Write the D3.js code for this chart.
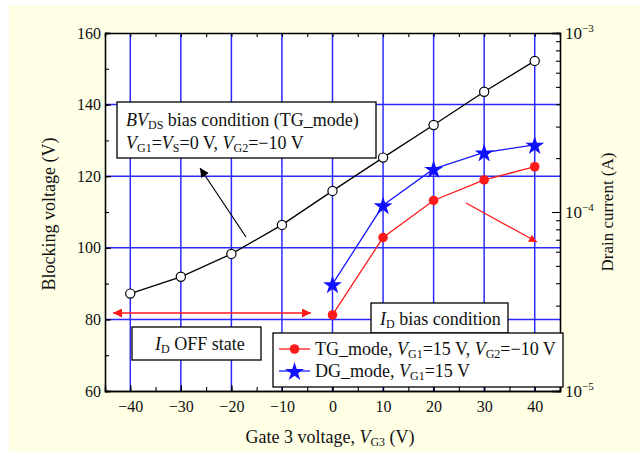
<!DOCTYPE html>
<html><head><meta charset="utf-8">
<script src="https://cdn.jsdelivr.net/npm/d3@7"></script>
<style>body{margin:0;background:#fff}svg{display:block}text{font-family:"Liberation Serif","Times New Roman",serif;fill:#111}</style>
</head><body><svg id="c" width="640" height="452"></svg>
<script>
const gateV = [-40,-30,-20,-10,0,10,20,30,40];
const bvBlocking = [87.2,91.9,98.3,106.4,115.9,125.2,134.3,143.6,152.2];
const tgV = [0,10,20,30,40];
const tgCurrent = [2.66e-5,7.2e-5,1.16e-4,1.51e-4,1.79e-4];
const dgV = [0,10,20,30,40];
const dgCurrent = [3.95e-5,1.09e-4,1.74e-4,2.15e-4,2.37e-4];
const xTicks = [-40,-30,-20,-10,0,10,20,30,40];
const yTicks = [60,80,100,120,140,160];
const rTicks = [1e-5,1e-4,1e-3];

const svg = d3.select("#c");
svg.append("rect").attr("x",9).attr("y",5).attr("width",631).attr("height",447).attr("fill","#ffffe6");
const L=105,R=560,T=33,B=391;
const x = d3.scaleLinear([-45,45],[L,R]);
const y = d3.scaleLinear([60,160],[B,T]);
const yr = d3.scaleLog([1e-5,1e-3],[B,T]);

svg.append("rect").attr("x",L).attr("y",T).attr("width",R-L).attr("height",B-T).attr("fill","#fff");
// grid
const grid = svg.append("g").attr("stroke","#2a2aff").attr("stroke-width",1.5);
xTicks.forEach(v=>grid.append("line").attr("x1",x(v)).attr("x2",x(v)).attr("y1",T).attr("y2",B));
yTicks.filter(v=>v>60&&v<160).forEach(v=>grid.append("line").attr("x1",L).attr("x2",R).attr("y1",y(v)).attr("y2",y(v)));

// axes
const fs=16, fa=18, fsub=12;
const gx = svg.append("g").attr("transform",`translate(0,${B})`)
  .call(d3.axisBottom(x).tickValues(xTicks).tickSize(-6).tickPadding(10).tickFormat(d=>d<0?"\u2212"+(-d):d));
const gxm = svg.append("g").attr("transform",`translate(0,${B})`)
  .call(d3.axisBottom(x).tickValues(d3.range(-45,46,5)).tickSize(-4).tickFormat(""));
const gt = svg.append("g").attr("transform",`translate(0,${T})`)
  .call(d3.axisTop(x).tickValues(d3.range(-45,46,5)).tickSize(-4).tickFormat(""));
const gy = svg.append("g").attr("transform",`translate(${L},0)`)
  .call(d3.axisLeft(y).tickValues(yTicks).tickSize(-6).tickPadding(4));
const gym = svg.append("g").attr("transform",`translate(${L},0)`)
  .call(d3.axisLeft(y).tickValues(d3.range(60,161,10)).tickSize(-4).tickFormat(""));
const minorR=[];[1e-5,1e-4].forEach(d=>{for(let k=2;k<=9;k++)minorR.push(d*k);});
const gr = svg.append("g").attr("transform",`translate(${R},0)`)
  .call(d3.axisRight(yr).tickValues(rTicks).tickSize(-8).tickPadding(5).tickFormat(""));
const grm = svg.append("g").attr("transform",`translate(${R},0)`)
  .call(d3.axisRight(yr).tickValues(minorR).tickSize(-4).tickFormat(""));
[gx,gxm,gt,gy,gym,gr,grm].forEach(g=>{g.select(".domain").attr("stroke","#000").attr("stroke-width",1.3);g.selectAll("line").attr("stroke","#000").attr("stroke-width",1.1);g.selectAll("text").attr("font-size",fs).attr("font-family","Liberation Serif").attr("fill","#111");});
// right tick labels with superscripts
rTicks.forEach(v=>{
  const t=svg.append("text").attr("x",R+5).attr("y",yr(v)+6).attr("font-size",fs+1);
  t.append("tspan").text("10");
  t.append("tspan").attr("dy",-7).attr("font-size",11).text("\u2212"+(-Math.round(Math.log10(v))));
});

// lines
const lineB = d3.line().x((d,i)=>x(gateV[i])).y(d=>y(d));
svg.append("path").attr("d",lineB(bvBlocking)).attr("fill","none").attr("stroke","#000").attr("stroke-width",1.3);
const lineT = d3.line().x((d,i)=>x(tgV[i])).y(d=>yr(d));
svg.append("path").attr("d",lineT(tgCurrent)).attr("fill","none").attr("stroke","#ff1a1a").attr("stroke-width",1.3);
const lineD = d3.line().x((d,i)=>x(dgV[i])).y(d=>yr(d));
svg.append("path").attr("d",lineD(dgCurrent)).attr("fill","none").attr("stroke","#1a1aff").attr("stroke-width",1.3);
// markers
const star = d3.symbol().type(d3.symbolStar).size(110);
svg.selectAll(".bm").data(bvBlocking).join("circle").attr("cx",(d,i)=>x(gateV[i])).attr("cy",d=>y(d)).attr("r",4.6).attr("fill","#fff").attr("stroke","#000").attr("stroke-width",1.2);
svg.selectAll(".tm").data(tgCurrent).join("circle").attr("cx",(d,i)=>x(tgV[i])).attr("cy",d=>yr(d)).attr("r",4.8).attr("fill","#ff1a1a");
svg.selectAll(".dm").data(dgCurrent).join("path").attr("d",star).attr("transform",(d,i)=>`translate(${x(dgV[i])},${yr(d)+1})`).attr("fill","#1010ff");

// arrows
const defs=svg.append("defs");
defs.append("marker").attr("id","ar").attr("viewBox","0 0 10 10").attr("refX",10).attr("refY",5).attr("markerWidth",16).attr("markerHeight",9).attr("markerUnits","userSpaceOnUse").attr("orient","auto-start-reverse").append("path").attr("d","M0,0L10,5L0,10z").attr("fill","#ff1a1a");
defs.append("marker").attr("id","ab").attr("viewBox","0 0 10 10").attr("refX",10).attr("refY",5).attr("markerWidth",14).attr("markerHeight",9).attr("markerUnits","userSpaceOnUse").attr("orient","auto").append("path").attr("d","M0,0L10,5L0,10z").attr("fill","#000");
defs.append("marker").attr("id","ar2").attr("viewBox","0 0 10 10").attr("refX",10).attr("refY",5).attr("markerWidth",14).attr("markerHeight",8).attr("markerUnits","userSpaceOnUse").attr("orient","auto").append("path").attr("d","M0,0L10,5L0,10z").attr("fill","#ff1a1a");
svg.append("line").attr("x1",113).attr("y1",313).attr("x2",311).attr("y2",313).attr("stroke","#ff1a1a").attr("stroke-width",1.5).attr("marker-start","url(#ar)").attr("marker-end","url(#ar)");
svg.append("line").attr("x1",246).attr("y1",237).attr("x2",200).attr("y2",168).attr("stroke","#000").attr("stroke-width",1.2).attr("marker-end","url(#ab)");
svg.append("line").attr("x1",466).attr("y1",203).attr("x2",537).attr("y2",242).attr("stroke","#ff1a1a").attr("stroke-width",1.3).attr("marker-end","url(#ar2)");

// annotation boxes
function box(x0,y0,w,h){svg.append("rect").attr("x",x0).attr("y",y0).attr("width",w).attr("height",h).attr("fill","#fff").attr("stroke","#000").attr("stroke-width",1.3);}
function rich(t,parts){parts.forEach(p=>{const s=t.append("tspan").text(p[0]);if(p[1]==="i")s.attr("font-style","italic");if(p[1]==="s")s.attr("font-size",fsub).attr("dy",3);if(p[1]==="u")s.attr("dy",-3);});}
box(117,102,259,56);
let t=svg.append("text").attr("x",126).attr("y",126).attr("font-size",fa);
rich(t,[["BV","i"],["DS","s"],[" bias condition (TG_mode)","u"]]);
t=svg.append("text").attr("x",126).attr("y",149).attr("font-size",fa);
rich(t,[["V","i"],["G1","s"],["=","u"],["V","i"],["S","s"],["=0 V, ","u"],["V","i"],["G2","s"],["=\u221210 V","u"]]);

box(132,327,129,33);
t=svg.append("text").attr("x",155).attr("y",350).attr("font-size",fa);
rich(t,[["I","i"],["D","s"],[" OFF state","u"]]);

box(371,303,137,30);
t=svg.append("text").attr("x",380).attr("y",325).attr("font-size",fa);
rich(t,[["I","i"],["D","s"],[" bias condition","u"]]);

// legend
box(273,333,290,54);
svg.append("line").attr("x1",279).attr("x2",310).attr("y1",349).attr("y2",349).attr("stroke","#ff1a1a").attr("stroke-width",1.3);
svg.append("circle").attr("cx",294.5).attr("cy",349).attr("r",4.8).attr("fill","#ff1a1a");
svg.append("line").attr("x1",279).attr("x2",310).attr("y1",371).attr("y2",371).attr("stroke","#1a1aff").attr("stroke-width",1.3);
svg.append("path").attr("d",star).attr("transform","translate(294.5,372)").attr("fill","#1010ff");
t=svg.append("text").attr("x",315).attr("y",355).attr("font-size",fa);
rich(t,[["TG_mode, ",""],["V","i"],["G1","s"],["=15 V, ","u"],["V","i"],["G2","s"],["=\u221210 V","u"]]);
t=svg.append("text").attr("x",315).attr("y",377).attr("font-size",fa);
rich(t,[["DG_mode, ",""],["V","i"],["G1","s"],["=15 V","u"]]);

// axis titles
t=svg.append("text").attr("x",330).attr("y",443).attr("text-anchor","middle").attr("font-size",fa);
rich(t,[["Gate 3 voltage, ",""],["V","i"],["G3","s"],[" (V)","u"]]);
svg.append("text").attr("transform","translate(55,214) rotate(-90)").attr("text-anchor","middle").attr("font-size",fa).text("Blocking voltage (V)");
svg.append("text").attr("transform","translate(613,212) rotate(-90)").attr("text-anchor","middle").attr("font-size",fa-1).text("Drain current (A)");
</script></body></html>
